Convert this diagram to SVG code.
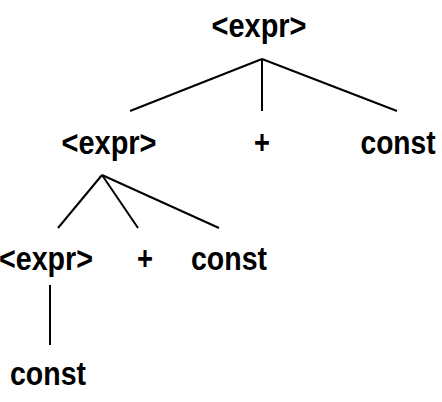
<svg xmlns="http://www.w3.org/2000/svg" width="442" height="402" viewBox="0 0 442 402">
<style>
.t{font-family:"Liberation Sans Narrow","Liberation Sans",Arial,sans-serif;font-weight:bold;font-size:34px;fill:#000;text-anchor:middle}
.e{stroke:#000;stroke-width:2;fill:none}
</style>
<rect width="442" height="402" fill="#fff"/>
<g id="connectors">
<line class="e" x1="262" y1="59" x2="130" y2="111"/>
<line class="e" x1="262" y1="59" x2="262" y2="111"/>
<line class="e" x1="262" y1="59" x2="397" y2="111"/>
<line class="e" x1="102" y1="175" x2="58" y2="228"/>
<line class="e" x1="102" y1="175" x2="138" y2="228"/>
<line class="e" x1="102" y1="175" x2="219" y2="228"/>
<line class="e" x1="50" y1="285" x2="50" y2="345"/>
</g>
<g id="n1"><text class="t" x="259" y="37" textLength="95" lengthAdjust="spacingAndGlyphs">&lt;expr&gt;</text></g>
<g id="n2"><text class="t" x="109" y="154" textLength="95" lengthAdjust="spacingAndGlyphs">&lt;expr&gt;</text></g>
<g id="n3"><text class="t" x="262" y="154" textLength="16" lengthAdjust="spacingAndGlyphs">+</text></g>
<g id="n4"><text class="t" x="398" y="154" textLength="75" lengthAdjust="spacingAndGlyphs">const</text></g>
<g id="n5"><text class="t" x="46" y="270" textLength="94" lengthAdjust="spacingAndGlyphs">&lt;expr&gt;</text></g>
<g id="n6"><text class="t" x="145" y="270" textLength="16" lengthAdjust="spacingAndGlyphs">+</text></g>
<g id="n7"><text class="t" x="229" y="270" textLength="76" lengthAdjust="spacingAndGlyphs">const</text></g>
<g id="n8"><text class="t" x="48" y="385" textLength="76" lengthAdjust="spacingAndGlyphs">const</text></g>
</svg>
